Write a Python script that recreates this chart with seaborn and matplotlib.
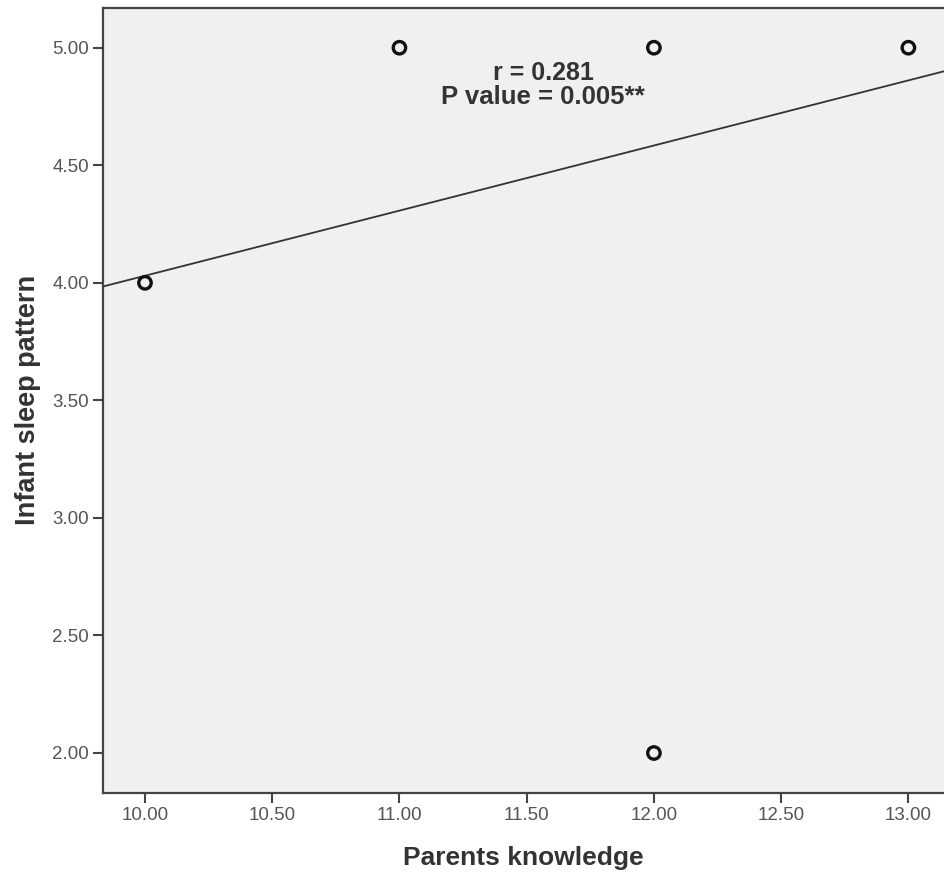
import matplotlib
matplotlib.use("Agg")
import matplotlib.pyplot as plt
import seaborn as sns
import numpy as np
import pandas as pd

# Data
parents_knowledge = [10.0, 11.0, 12.0, 13.0, 12.0]
infant_sleep = [4.0, 5.0, 5.0, 5.0, 2.0]
fit_intercept = 1.26
fit_slope = 0.277
x_ticks = [10.0, 10.5, 11.0, 11.5, 12.0, 12.5, 13.0]
y_ticks = [2.0, 2.5, 3.0, 3.5, 4.0, 4.5, 5.0]
annot_lines = ["r = 0.281", "P value = 0.005**"]

sns.set_theme(style="white")
plt.rcParams['font.family'] = ['Liberation Sans', 'DejaVu Sans']

fig = plt.figure(figsize=(9.44, 8.77), dpi=100)
ax = fig.add_axes([0.1091, 0.0961, 0.8909, 0.8948])
ax.set_facecolor("#f0f0f0")

df = pd.DataFrame({"x": parents_knowledge, "y": infant_sleep})
xlim = (9.835, 13.14)
ylim = (1.831, 5.169)

xs = np.array(xlim)
ax.plot(xs, fit_intercept + fit_slope * xs, color="#333333", lw=1.3, zorder=2)

sns.scatterplot(data=df, x="x", y="y", ax=ax, marker="o", s=80,
                facecolor="none", edgecolor="#111111", linewidth=2.4, zorder=3)

ax.set_xlim(*xlim)
ax.set_ylim(*ylim)
ax.set_xticks(x_ticks)
ax.set_yticks(y_ticks)
ax.set_xticklabels([f"{t:.2f}" for t in x_ticks])
ax.set_yticklabels([f"{t:.2f}" for t in y_ticks])
ax.tick_params(axis="both", direction="out", length=7, width=1.5,
               color="#444444", labelcolor="#555555", labelsize=13.5, pad=3,
               bottom=True, left=True)

for side in ["left", "bottom", "top"]:
    ax.spines[side].set_visible(True)
    ax.spines[side].set_color("#444444")
    ax.spines[side].set_linewidth(1.6)
ax.spines["right"].set_visible(False)

ax.set_xlabel("Parents knowledge", fontsize=19, fontweight="bold",
              color="#333333", labelpad=16)
ax.set_ylabel("Infant sleep pattern", fontsize=19.5, fontweight="bold",
              color="#333333", labelpad=8)

ax.text(11.565, 4.892, annot_lines[0], ha="center", va="center",
        fontsize=18, fontweight="bold", color="#333333")
ax.text(11.565, 4.79, annot_lines[1], ha="center", va="center",
        fontsize=18.5, fontweight="bold", color="#333333")

fig.savefig("out.png", dpi=100)
